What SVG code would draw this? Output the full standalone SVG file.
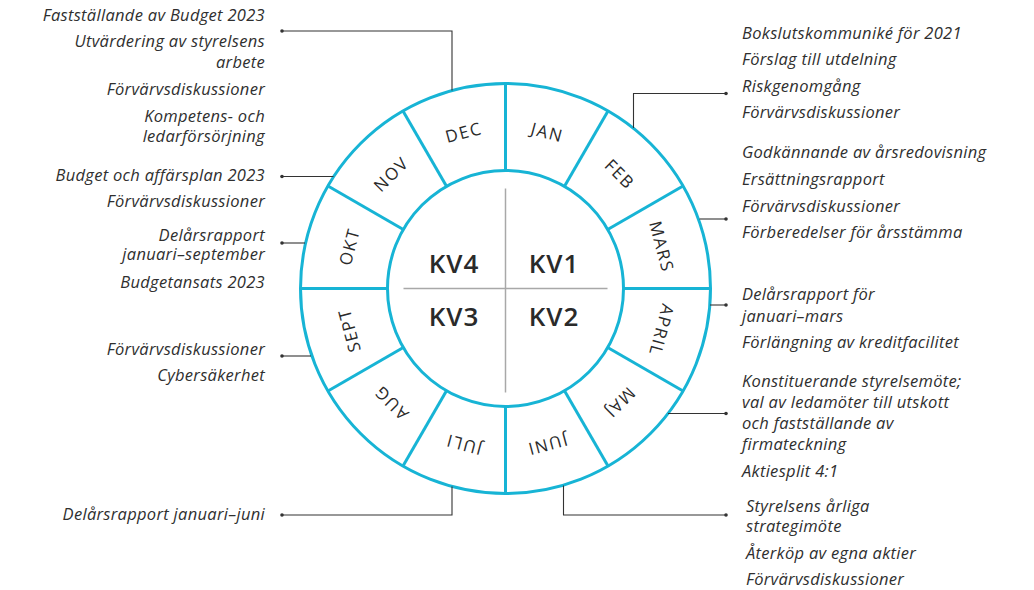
<svg xmlns="http://www.w3.org/2000/svg" width="1034" height="590" viewBox="0 0 1034 590">
<style>
.ring{fill:none;stroke:#17b4d5;stroke-width:3}
.spoke{stroke:#17b4d5;stroke-width:3}
.cross{stroke:#a8a8a8;stroke-width:1.5}
.mon{font-family:"Open Sans","Liberation Sans",sans-serif;font-size:17px;font-weight:500;fill:#2a2a2a;text-anchor:middle;dominant-baseline:central;letter-spacing:1.6px}
.kv{font-family:"Open Sans","Liberation Sans",sans-serif;font-size:26px;font-weight:600;fill:#2a2a2a;text-anchor:middle;dominant-baseline:central;letter-spacing:1px}
.t{font-family:"Open Sans","Liberation Sans",sans-serif;font-size:16.5px;font-style:italic;fill:#2f2f2f;letter-spacing:0.3px}
.l{text-anchor:end}
.con{fill:none;stroke:#333;stroke-width:1.1}
.dot{fill:#333}
</style>
<g id="wheel">
<circle class="ring" cx="505.5" cy="288.5" r="205"/>
<circle class="ring" cx="505.5" cy="288.5" r="118"/>
<g transform="translate(505.5,288.5)">
<line class="spoke" x1="0" y1="-118" x2="0" y2="-205" transform="rotate(0)"/>
<line class="spoke" x1="0" y1="-118" x2="0" y2="-205" transform="rotate(30)"/>
<line class="spoke" x1="0" y1="-118" x2="0" y2="-205" transform="rotate(60)"/>
<line class="spoke" x1="0" y1="-118" x2="0" y2="-205" transform="rotate(90)"/>
<line class="spoke" x1="0" y1="-118" x2="0" y2="-205" transform="rotate(120)"/>
<line class="spoke" x1="0" y1="-118" x2="0" y2="-205" transform="rotate(150)"/>
<line class="spoke" x1="0" y1="-118" x2="0" y2="-205" transform="rotate(180)"/>
<line class="spoke" x1="0" y1="-118" x2="0" y2="-205" transform="rotate(210)"/>
<line class="spoke" x1="0" y1="-118" x2="0" y2="-205" transform="rotate(240)"/>
<line class="spoke" x1="0" y1="-118" x2="0" y2="-205" transform="rotate(270)"/>
<line class="spoke" x1="0" y1="-118" x2="0" y2="-205" transform="rotate(300)"/>
<line class="spoke" x1="0" y1="-118" x2="0" y2="-205" transform="rotate(330)"/>
<line class="cross" x1="0" y1="-100" x2="0" y2="104"/>
<line class="cross" x1="-102" y1="0" x2="102" y2="0"/>
</g>
</g>
<g id="months" transform="translate(505.5,288.5)">
<text class="mon" transform="rotate(15) translate(0,-162)">JAN</text>
<text class="mon" transform="rotate(45) translate(0,-162)">FEB</text>
<text class="mon" transform="rotate(75) translate(0,-162)">MARS</text>
<text class="mon" transform="rotate(105) translate(0,-162)">APRIL</text>
<text class="mon" transform="rotate(135) translate(0,-162)">MAJ</text>
<text class="mon" transform="rotate(165) translate(0,-162)">JUNI</text>
<text class="mon" transform="rotate(195) translate(0,-162)">JULI</text>
<text class="mon" transform="rotate(225) translate(0,-162)">AUG</text>
<text class="mon" transform="rotate(255) translate(0,-162)">SEPT</text>
<text class="mon" transform="rotate(285) translate(0,-162)">OKT</text>
<text class="mon" transform="rotate(315) translate(0,-162)">NOV</text>
<text class="mon" transform="rotate(345) translate(0,-162)">DEC</text>
</g>
<g id="quarters">
<text class="kv" x="454" y="263">KV4</text>
<text class="kv" x="554" y="263">KV1</text>
<text class="kv" x="454" y="316">KV3</text>
<text class="kv" x="554" y="316">KV2</text>
</g>
<g id="connectors">
<path class="con" d="M452,90.5 V31 H282"/><circle class="dot" cx="282" cy="31" r="1.8"/>
<path class="con" d="M333.5,176.5 H282"/><circle class="dot" cx="282" cy="176.5" r="1.8"/>
<path class="con" d="M305,243 H282"/><circle class="dot" cx="282" cy="243" r="1.8"/>
<path class="con" d="M311,356 H282"/><circle class="dot" cx="282" cy="356" r="1.8"/>
<path class="con" d="M452,486.5 V515 H282"/><circle class="dot" cx="282" cy="515" r="1.8"/>
<path class="con" d="M563.5,485.5 V515 H726"/><circle class="dot" cx="726" cy="515" r="1.8"/>
<path class="con" d="M633.5,128 V93.5 H726"/><circle class="dot" cx="726" cy="93.5" r="1.8"/>
<path class="con" d="M699.5,219 H726"/><circle class="dot" cx="726" cy="219" r="1.8"/>
<path class="con" d="M710,305 H726"/><circle class="dot" cx="726" cy="305" r="1.8"/>
<path class="con" d="M668,413.5 H726"/><circle class="dot" cx="726" cy="413.5" r="1.8"/>
</g>
<g id="dec-text">
<text class="t l" x="265" y="21">Fastställande av Budget 2023</text>
<text class="t l" x="265" y="47">Utvärdering  av styrelsens</text>
<text class="t l" x="265" y="68">arbete</text>
<text class="t l" x="265" y="94.5">Förvärvsdiskussioner</text>
<text class="t l" x="265" y="121.5">Kompetens- och</text>
<text class="t l" x="265" y="141.5">ledarförsörjning</text>
</g>
<g id="nov-text">
<text class="t l" x="265" y="181">Budget och affärsplan 2023</text>
<text class="t l" x="265" y="207">Förvärvsdiskussioner</text>
</g>
<g id="okt-text">
<text class="t l" x="265" y="240.5">Delårsrapport</text>
<text class="t l" x="265" y="260">januari–september</text>
<text class="t l" x="265" y="287.5">Budgetansats 2023</text>
</g>
<g id="sept-text">
<text class="t l" x="265" y="355">Förvärvsdiskussioner</text>
<text class="t l" x="265" y="381">Cybersäkerhet</text>
</g>
<g id="juli-text">
<text class="t l" x="265" y="519.5">Delårsrapport januari–juni</text>
</g>
<g id="feb-text">
<text class="t" x="742" y="39">Bokslutskommuniké för 2021</text>
<text class="t" x="742" y="65">Förslag till utdelning</text>
<text class="t" x="742" y="91.5">Riskgenomgång</text>
<text class="t" x="742" y="118">Förvärvsdiskussioner</text>
</g>
<g id="mars-text">
<text class="t" x="742" y="158">Godkännande av årsredovisning</text>
<text class="t" x="742" y="185">Ersättningsrapport</text>
<text class="t" x="742" y="211.5">Förvärvsdiskussioner</text>
<text class="t" x="742" y="237.5">Förberedelser för årsstämma</text>
</g>
<g id="april-text">
<text class="t" x="742" y="300">Delårsrapport för</text>
<text class="t" x="742" y="321.5">januari–mars</text>
<text class="t" x="742" y="347.5">Förlängning av kreditfacilitet</text>
</g>
<g id="maj-text">
<text class="t" x="742" y="387">Konstituerande styrelsemöte;</text>
<text class="t" x="742" y="407.5">val av ledamöter till utskott</text>
<text class="t" x="742" y="428.5">och fastställande av</text>
<text class="t" x="742" y="450">firmateckning</text>
<text class="t" x="742" y="476.5">Aktiesplit 4:1</text>
</g>
<g id="juni-text">
<text class="t" x="746" y="511.5">Styrelsens årliga</text>
<text class="t" x="746" y="532">strategimöte</text>
<text class="t" x="746" y="559">Återköp av egna aktier</text>
<text class="t" x="746" y="585">Förvärvsdiskussioner</text>
</g>
</svg>
